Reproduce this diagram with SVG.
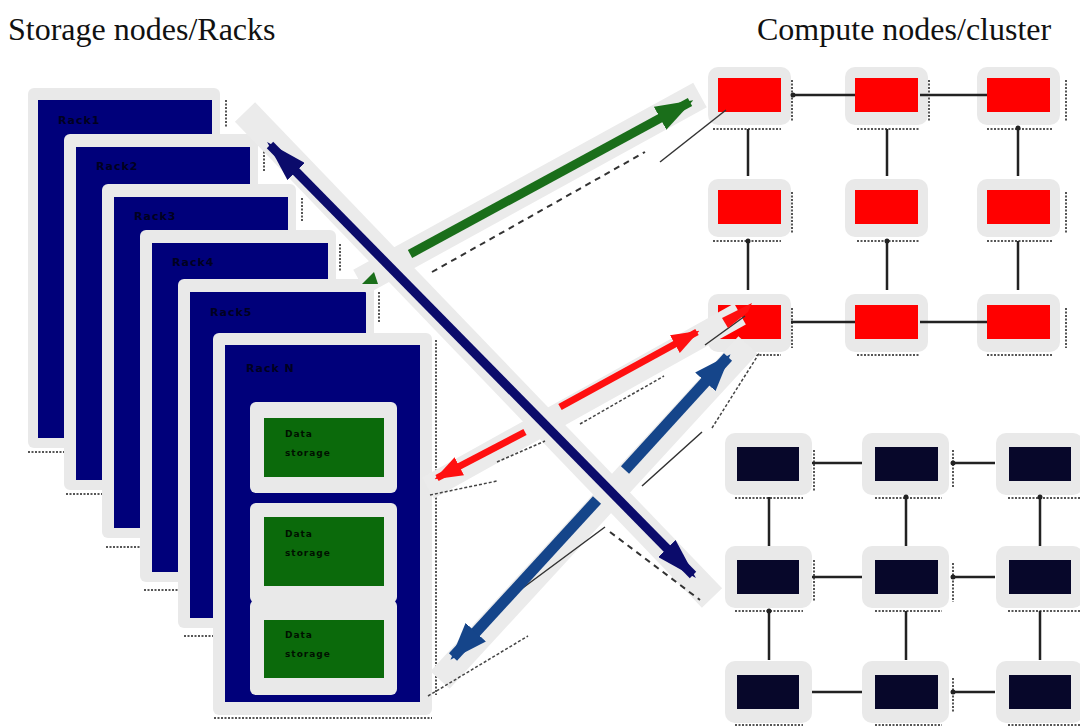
<svg xmlns="http://www.w3.org/2000/svg" width="1080" height="728" viewBox="0 0 1080 728">
<defs>
<style>
.title{font-family:"Liberation Serif","Times New Roman",serif;font-size:32px;fill:#111}
.halo{fill:#e9e9e9}
.rack{fill:#00007a}
.rlab{font-family:"DejaVu Sans",sans-serif;font-size:11px;font-weight:bold;fill:#000020;letter-spacing:1px}
.slab{font-family:"DejaVu Sans",sans-serif;font-size:9px;font-weight:bold;fill:#001000;letter-spacing:1px}
.dots{stroke:#555;stroke-width:2;stroke-dasharray:2 1.5;fill:none}
.green{fill:#0b6a0b}
.red{fill:#ff0000}
.blk{fill:#07072a}
.link{stroke:#222;stroke-width:2.5;fill:none}
.ahalo{stroke:#ebebeb;stroke-linecap:butt;fill:none}
.thin{stroke:#333;stroke-width:1.5;fill:none}
.dash{stroke:#333;stroke-width:2;stroke-dasharray:6 5;fill:none}
.zig{stroke:#444;stroke-width:1.5;stroke-dasharray:3 2;fill:none}
</style>
<marker id="hNavy" viewBox="0 0 10 10" preserveAspectRatio="none" refX="9" refY="5" markerWidth="4.6" markerHeight="2.7" orient="auto-start-reverse" markerUnits="strokeWidth"><path d="M0,0 L10,5 L0,10 z" fill="#0b0b6b"/></marker>
<marker id="hGreen" viewBox="0 0 10 10" preserveAspectRatio="none" refX="9" refY="5" markerWidth="4.2" markerHeight="2.9" orient="auto-start-reverse" markerUnits="strokeWidth"><path d="M0,0 L10,5 L0,10 z" fill="#1a6e1a"/></marker>
<marker id="hRed" viewBox="0 0 10 10" preserveAspectRatio="none" refX="9" refY="5" markerWidth="4" markerHeight="2.9" orient="auto-start-reverse" markerUnits="strokeWidth"><path d="M0,0 L10,5 L0,10 z" fill="#ff1010"/></marker>
<marker id="hBlue" viewBox="0 0 10 10" preserveAspectRatio="none" refX="9" refY="5" markerWidth="3.4" markerHeight="2.5" orient="auto-start-reverse" markerUnits="strokeWidth"><path d="M0,0 L10,5 L0,10 z" fill="#15458a"/></marker>
</defs>
<rect width="1080" height="728" fill="#fff"/>
<text class="title" x="8" y="40">Storage nodes/Racks</text>
<text class="title" x="757" y="40">Compute nodes/cluster</text>

<g id="rack1">
<rect class="halo" x="28" y="88" width="192" height="360" rx="6"/>
<rect class="rack" x="38" y="100" width="174" height="338"/>
<text class="rlab" x="58" y="124">Rack1</text>
<path class="dots" d="M226 100 V128 M28 452 H70"/>
</g>
<g id="rack2">
<rect class="halo" x="64" y="134" width="194" height="356" rx="6"/>
<rect class="rack" x="76" y="147" width="174" height="333"/>
<text class="rlab" x="96" y="170">Rack2</text>
<path class="dots" d="M264 148 V172 M66 494 H106"/>
</g>
<g id="rack3">
<rect class="halo" x="102" y="184" width="194" height="354" rx="6"/>
<rect class="rack" x="114" y="197" width="174" height="331"/>
<text class="rlab" x="134" y="220">Rack3</text>
<path class="dots" d="M302 198 V222 M106 547 H142"/>
</g>
<g id="rack4">
<rect class="halo" x="140" y="230" width="196" height="352" rx="6"/>
<rect class="rack" x="152" y="243" width="176" height="329"/>
<text class="rlab" x="172" y="266">Rack4</text>
<path class="dots" d="M340 244 V272 M144 590 H182"/>
</g>
<g id="rack5">
<rect class="halo" x="178" y="279" width="196" height="349" rx="6"/>
<rect class="rack" x="190" y="292" width="176" height="326"/>
<text class="rlab" x="210" y="316">Rack5</text>
<path class="dots" d="M379 292 V322 M184 636 H218"/>
</g>
<g id="rackN">
<rect class="halo" x="213" y="333" width="219" height="382" rx="6"/>
<rect class="rack" x="225" y="345" width="195" height="357"/>
<text class="rlab" x="246" y="372">Rack N</text>
<path class="dots" d="M436 340 V695 M214 718 H432"/>
</g>
<g id="store1">
<rect class="halo" x="250" y="402" width="147" height="91" rx="6" fill="#eeeeee"/>
<rect class="green" x="264" y="418" width="120" height="59"/>
<text class="slab" x="285" y="437">Data</text><text class="slab" x="285" y="456">storage</text>
</g>
<g id="store2">
<rect class="halo" x="250" y="503" width="147" height="100" rx="6" fill="#eeeeee"/>
<rect class="green" x="264" y="517" width="120" height="69"/>
<text class="slab" x="285" y="537">Data</text><text class="slab" x="285" y="556">storage</text>
</g>
<g id="store3">
<rect class="halo" x="250" y="600" width="147" height="95" rx="6" fill="#eeeeee"/>
<rect class="green" x="264" y="620" width="120" height="58"/>
<text class="slab" x="285" y="638">Data</text><text class="slab" x="285" y="657">storage</text>
</g>

<g id="compute-red">
<g id="r11"><rect class="halo" x="708" y="67" width="83" height="58" rx="10"/><rect class="red" x="718" y="78" width="63" height="34"/><path class="dots" d="M713 129 H781 M792 80 V122"/></g>
<g id="r12"><rect class="halo" x="845" y="67" width="83" height="58" rx="10"/><rect class="red" x="855" y="78" width="63" height="34"/><path class="dots" d="M857 129 H920 M929 80 V122"/></g>
<g id="r13"><rect class="halo" x="977" y="67" width="83" height="58" rx="10"/><rect class="red" x="987" y="78" width="63" height="34"/><path class="dots" d="M987 129 H1052 M1066 80 V122"/></g>
<g id="r21"><rect class="halo" x="708" y="179" width="83" height="58" rx="10"/><rect class="red" x="718" y="190" width="63" height="34"/><path class="dots" d="M713 241 H781 M792 192 V234"/></g>
<g id="r22"><rect class="halo" x="845" y="179" width="83" height="58" rx="10"/><rect class="red" x="855" y="190" width="63" height="34"/><path class="dots" d="M857 241 H920"/></g>
<g id="r23"><rect class="halo" x="977" y="179" width="83" height="58" rx="10"/><rect class="red" x="987" y="190" width="63" height="34"/><path class="dots" d="M987 241 H1052 M1066 192 V234"/></g>
<g id="r31"><rect class="halo" x="708" y="294" width="83" height="58" rx="10"/><rect class="red" x="718" y="305" width="63" height="34"/><path class="dots" d="M735 355 H781 M792 308 V348"/></g>
<g id="r32"><rect class="halo" x="845" y="294" width="83" height="58" rx="10"/><rect class="red" x="855" y="305" width="63" height="34"/><path class="dots" d="M857 355 H920"/></g>
<g id="r33"><rect class="halo" x="977" y="294" width="83" height="58" rx="10"/><rect class="red" x="987" y="305" width="63" height="34"/><path class="dots" d="M987 355 H1052 M1066 308 V348"/></g>
</g>

<g id="compute-black">
<g id="b11"><rect class="halo" x="725" y="433" width="87" height="62" rx="10"/><rect class="blk" x="737" y="447" width="62" height="34"/><path class="dots" d="M735 498 H803 M814 450 V492"/></g>
<g id="b12"><rect class="halo" x="862" y="433" width="87" height="62" rx="10"/><rect class="blk" x="875" y="447" width="63" height="34"/><path class="dots" d="M875 498 H942 M953 450 V488"/></g>
<g id="b13"><rect class="halo" x="996" y="433" width="87" height="62" rx="10"/><rect class="blk" x="1009" y="447" width="62" height="34"/><path class="dots" d="M1008 498 H1080"/></g>
<g id="b21"><rect class="halo" x="725" y="546" width="87" height="62" rx="10"/><rect class="blk" x="737" y="560" width="62" height="34"/><path class="dots" d="M735 611 H803 M814 560 V602"/></g>
<g id="b22"><rect class="halo" x="862" y="546" width="87" height="62" rx="10"/><rect class="blk" x="875" y="560" width="63" height="34"/><path class="dots" d="M875 611 H942 M953 563 V602"/></g>
<g id="b23"><rect class="halo" x="996" y="546" width="87" height="62" rx="10"/><rect class="blk" x="1009" y="560" width="62" height="34"/><path class="dots" d="M1008 611 H1080"/></g>
<g id="b31"><rect class="halo" x="725" y="661" width="87" height="62" rx="10"/><rect class="blk" x="737" y="675" width="62" height="34"/><path class="dots" d="M735 725 H803"/></g>
<g id="b32"><rect class="halo" x="862" y="661" width="87" height="62" rx="10"/><rect class="blk" x="875" y="675" width="63" height="34"/><path class="dots" d="M875 725 H942 M953 678 V712"/></g>
<g id="b33"><rect class="halo" x="996" y="661" width="87" height="62" rx="10"/><rect class="blk" x="1009" y="675" width="62" height="34"/><path class="dots" d="M1008 725 H1080"/></g>
</g>

<g id="connectors">
<path class="link" d="M793 95 H855 M920 95 H987 M791 322 H855 M920 322 H987 M748 129 V176 M887 129 V176 M1018 129 V176 M748 241 V290 M887 241 V290 M1018 241 V290"/>
<circle cx="793" cy="95" r="2.5" fill="#222"/><circle cx="1018" cy="128" r="2.5" fill="#222"/><circle cx="748" cy="241" r="2.5" fill="#222"/><circle cx="887" cy="241" r="2.5" fill="#222"/>
<path class="link" d="M812 463 H862 M951 463 H995 M812 577 H862 M951 577 H995 M812 692 H862 M951 692 H995 M769 497 V546 M906 497 V546 M1040 497 V546 M769 611 V660 M906 611 V660 M1040 611 V660"/>
<circle cx="953" cy="463" r="2.5" fill="#222"/><circle cx="953" cy="577" r="2.5" fill="#222"/><circle cx="953" cy="692" r="2.5" fill="#222"/><circle cx="769" cy="611" r="2.5" fill="#222"/><circle cx="906" cy="497" r="2.5" fill="#222"/><circle cx="1040" cy="497" r="2.5" fill="#222"/>

<path class="ahalo" stroke-width="28" d="M245 112 L712 598"/>
<path class="ahalo" stroke-width="28" d="M360 282 L700 95"/>
<path class="ahalo" stroke-width="24" d="M428 488 L740 314"/>
<path class="ahalo" stroke-width="26" d="M440 680 L748 345"/>

<path class="dash" d="M432 272 L645 152"/>
<path class="thin" d="M660 162 L726 110"/>
<path class="dash" d="M610 532 L700 600"/>
<path class="zig" d="M580 424 L664 376 M497 462 L545 441 M430 495 L497 481"/>
<path class="thin" d="M642 486 L702 432 M520 590 L605 527 M705 345 L745 316"/>
<path class="zig" d="M428 696 L528 636 M712 428 L760 352"/>

<line x1="270" y1="145" x2="693" y2="575" stroke="#0b0b6b" stroke-width="9" marker-start="url(#hNavy)" marker-end="url(#hNavy)"/>
<line x1="410" y1="254" x2="690" y2="102" stroke="#1a6e1a" stroke-width="9" marker-end="url(#hGreen)"/>
<path d="M362 284 L374 272 L378 284 z" fill="#1a6e1a"/>
<line x1="560" y1="407" x2="697" y2="332" stroke="#ff1010" stroke-width="7" marker-end="url(#hRed)"/>
<line x1="525" y1="432" x2="437" y2="478" stroke="#ff1010" stroke-width="7" marker-end="url(#hRed)"/>
<path d="M722 318 L752 303 L748 312 L728 328 z" fill="#ff1010"/>
<line x1="625" y1="470" x2="728" y2="357" stroke="#15458a" stroke-width="11" marker-end="url(#hBlue)"/>
<line x1="597" y1="500" x2="453" y2="657" stroke="#15458a" stroke-width="11" marker-end="url(#hBlue)"/>
</g>
</svg>
